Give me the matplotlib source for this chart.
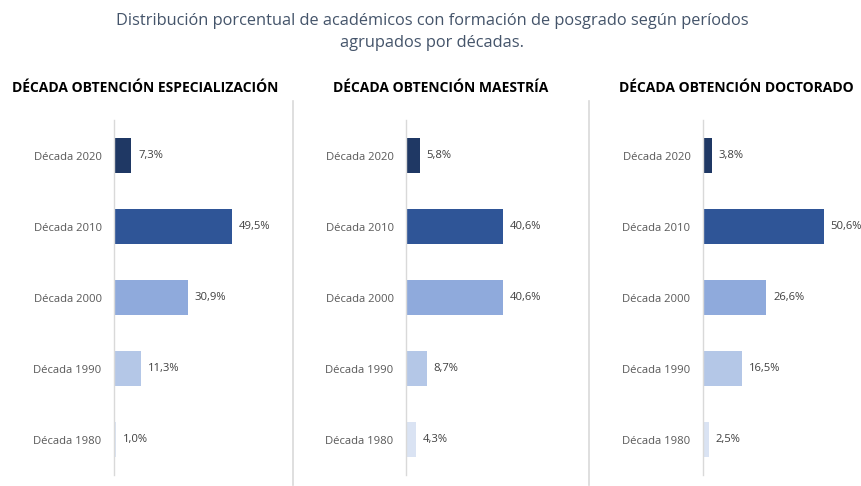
import matplotlib.pyplot as plt
from matplotlib.lines import Line2D

plt.rcParams['font.family'] = ['Open Sans', 'DejaVu Sans']

decadas = ['Década 2020', 'Década 2010', 'Década 2000', 'Década 1990', 'Década 1980']
especializacion = [7.3, 49.5, 30.9, 11.3, 1.0]
maestria = [5.8, 40.6, 40.6, 8.7, 4.3]
doctorado = [3.8, 50.6, 26.6, 16.5, 2.5]
paneles = ['DÉCADA OBTENCIÓN ESPECIALIZACIÓN', 'DÉCADA OBTENCIÓN MAESTRÍA',
           'DÉCADA OBTENCIÓN DOCTORADO']
colores = ['#1F3864', '#2F5597', '#8FAADC', '#B4C7E7', '#DAE3F3']

W, H = 861, 486
fig = plt.figure(figsize=(W / 100, H / 100), dpi=100)

fig.text(432 / W, 1 - 32 / H,
         'Distribución porcentual de académicos con formación de posgrado según períodos\nagrupados por décadas.',
         ha='center', va='center', fontsize=11.8, color='#44546A', linespacing=1.45)

lefts = [114, 406, 703]
heads = [145, 441, 736]
series = [especializacion, maestria, doctorado]
for left, hx, titulo, vals in zip(lefts, heads, paneles, series):
    ax = fig.add_axes([left / W, 1 - 475 / H, 143 / W, 355 / H])
    y = range(len(decadas))
    ax.barh(y, vals, height=0.49, color=colores)
    for yi, v in zip(y, vals):
        ax.text(v + 2.8, yi, f'{v:.1f}%'.replace('.', ','), va='center', ha='left',
                fontsize=8.1, color='#404040')
    ax.set_yticks(list(y))
    ax.set_yticklabels(decadas, fontsize=8.1, color='#595959')
    ax.tick_params(axis='y', length=0, pad=9)
    ax.set_ylim(4.5, -0.5)
    ax.set_xlim(0, 60)
    ax.set_xticks([])
    for s in ['top', 'right', 'bottom']:
        ax.spines[s].set_visible(False)
    ax.spines['left'].set_color('#D9D9D9')
    ax.spines['left'].set_linewidth(1)
    ax.set_facecolor('none')
    fig.text(hx / W, 1 - 88 / H, titulo, ha='center', va='center',
             fontsize=10, fontweight='bold', color='black')

for sx in [293, 589]:
    fig.add_artist(Line2D([sx / W, sx / W], [1 - 101 / H, 1 - 485 / H],
                          color='#D9D9D9', linewidth=1.2))

fig.savefig('out.png', dpi=100)
